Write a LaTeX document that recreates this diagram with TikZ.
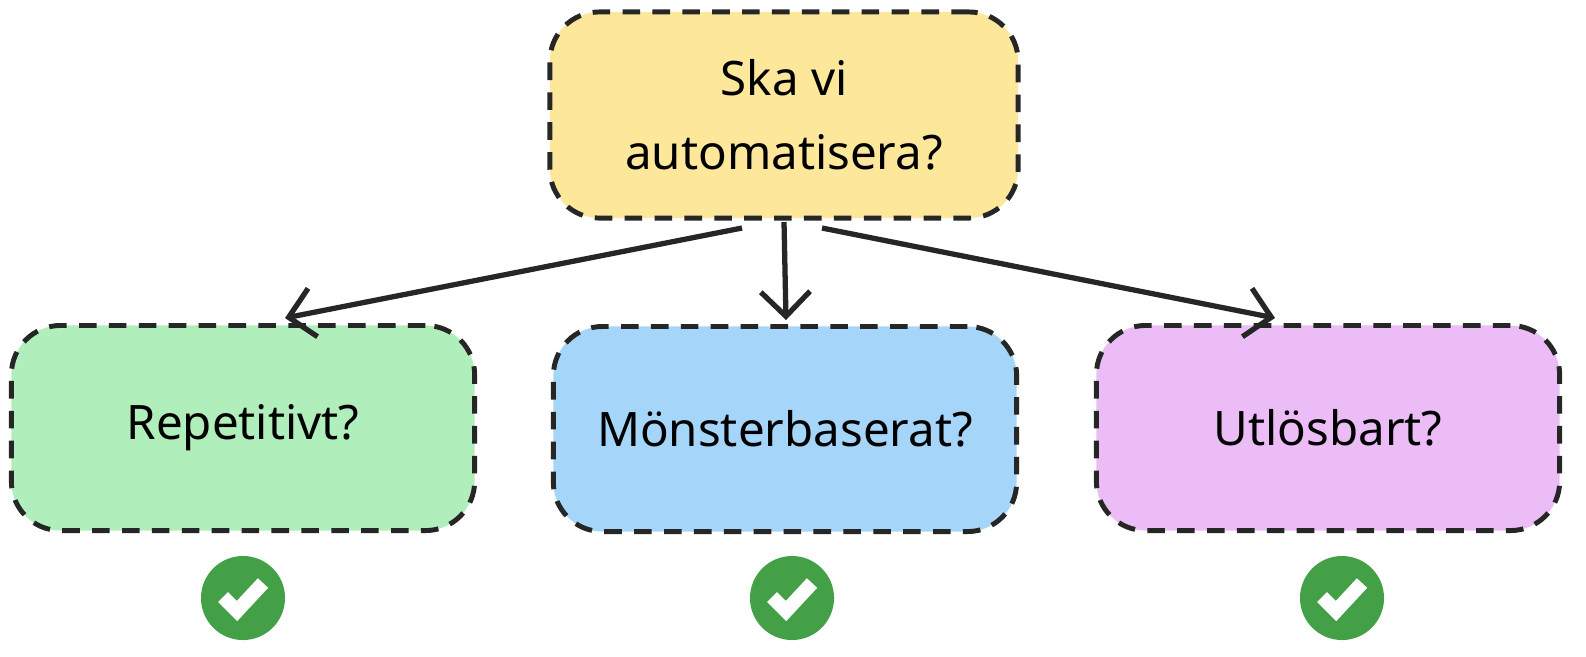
\documentclass[tikz,border=0pt]{standalone}
\usepackage{fontspec}
\setmainfont{Noto Sans}
\usetikzlibrary{arrows.meta,positioning}
\definecolor{qyellow}{HTML}{FCE79A}
\definecolor{qgreen}{HTML}{B0EEBC}
\definecolor{qblue}{HTML}{A5D6FA}
\definecolor{qpink}{HTML}{EBBCF5}
\definecolor{okgreen}{HTML}{43A047}
\begin{document}
\begin{tikzpicture}[x=0.01cm,y=-0.01cm]
\tikzset{box/.style={draw=black!85,line width=1.4pt,dash pattern=on 5pt off 3.5pt,rounded corners=14pt,
  minimum width=4.63cm,minimum height=2.05cm,align=center,font=\fontsize{13.5}{21}\selectfont},
  arr/.style={-{Straight Barb[length=7pt,width=14pt]},line width=1.5pt,black!85},
  ok/.style={circle,fill=okgreen,minimum size=0.84cm,inner sep=0pt}}
\useasboundingbox (0,0) rectangle (1586,656);
\node[box,fill=qyellow,minimum width=4.68cm,minimum height=2.06cm] (top) at (784,115) {Ska vi\\automatisera?};
\node[box,fill=qgreen] (rep) at (243,428) {Repetitivt?};
\node[box,fill=qblue] (mon) at (785,429) {Mönsterbaserat?};
\node[box,fill=qpink] (utl) at (1328,428) {Utlösbart?};
\coordinate (s1) at (742,228);
\coordinate (s2) at (784,222);
\coordinate (s3) at (822,228);
\coordinate (e1) at (285,318);
\coordinate (e2) at (786,320);
\coordinate (e3) at (1275,318);
\draw[arr] (s1) -- (e1);
\draw[arr] (s2) -- (e2);
\draw[arr] (s3) -- (e3);
\foreach \n/\x in {c1/243,c2/792,c3/1342}{
  \node[ok] (\n) at (\x,598) {};
  \draw[white,line width=4pt] ([xshift=-0.2cm,yshift=0.01cm]\n.center) -- ([xshift=-0.06cm,yshift=-0.13cm]\n.center) -- ([xshift=0.2cm,yshift=0.15cm]\n.center);
}
\end{tikzpicture}
\end{document}
